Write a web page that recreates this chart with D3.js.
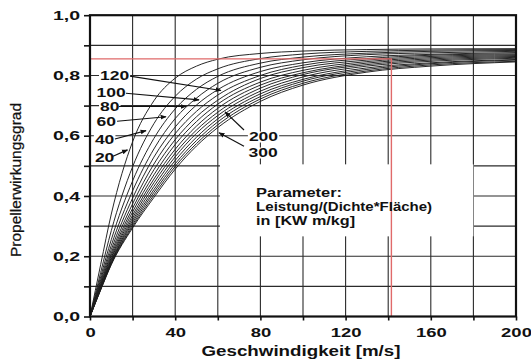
<!DOCTYPE html>
<html>
<head>
<meta charset="utf-8">
<script src="https://cdn.jsdelivr.net/npm/d3@7"></script>
<style>
  body { margin: 0; background: #fff; }
  svg { display: block; font-family: "Liberation Sans", Arial, sans-serif; }
</style>
</head>
<body>
<div id="chart"></div>
<script>
var speeds = [0, 5, 10, 20, 30, 40, 50, 60, 80, 100, 130, 160, 200];

// parameter Leistung/(Dichte*Flaeche) in kW m/kg, one curve each
var params = [20, 40, 60, 80, 100, 120, 140, 160, 180, 200, 220, 240, 260, 280, 300];

// Propellerwirkungsgrad per curve, at the speeds above
var eta020 = [0, .172, .340, .580, .716, .791, .831, .854, .873, .881, .886, .888, .889];
var eta040 = [0, .146, .285, .497, .640, .731, .788, .822, .856, .871, .880, .884, .886];
var eta060 = [0, .132, .255, .450, .591, .689, .754, .797, .841, .861, .874, .880, .883];
var eta080 = [0, .122, .236, .417, .556, .657, .725, .774, .827, .852, .869, .875, .880];
var eta100 = [0, .115, .222, .393, .529, .629, .702, .753, .813, .842, .862, .870, .876];
var eta120 = [0, .109, .211, .374, .506, .607, .681, .735, .800, .834, .856, .867, .872];
var eta140 = [0, .105, .203, .359, .487, .587, .663, .718, .790, .826, .851, .863, .869];
var eta160 = [0, .101, .196, .347, .470, .571, .647, .705, .778, .817, .846, .859, .866];
var eta180 = [0, .098, .191, .336, .456, .555, .632, .691, .768, .809, .841, .855, .863];
var eta200 = [0, .096, .186, .327, .444, .542, .619, .678, .758, .803, .836, .851, .860];
var eta220 = [0, .094, .182, .319, .432, .530, .608, .667, .748, .795, .831, .847, .857];
var eta240 = [0, .092, .179, .312, .421, .518, .595, .656, .739, .787, .825, .842, .853];
var eta260 = [0, .090, .176, .305, .412, .507, .584, .646, .730, .781, .820, .839, .851];
var eta280 = [0, .089, .174, .299, .403, .498, .574, .636, .722, .774, .815, .835, .847];
var eta300 = [0, .088, .172, .294, .395, .489, .566, .627, .714, .768, .811, .831, .845];
var etaSeries = [eta020, eta040, eta060, eta080, eta100, eta120, eta140, eta160,
                 eta180, eta200, eta220, eta240, eta260, eta280, eta300];

// axes
var xTicks = d3.range(0, 201, 20);
var xLabels = [0, 40, 80, 120, 160, 200];
var yTicks = d3.range(0, 10.01, 1).map(function(d) { return d / 10; });
var yLabels = [0, 0.2, 0.4, 0.6, 0.8, 1.0];

// red reading lines
var markSpeed = 141.5, markEta = 0.855;

// curve labels: text, arrow start and arrow tip, all in (speed, eta)
var curveLabels = ["120", "100", "80", "60", "40", "20", "200", "300"];
var labelPos = [[4.7, .786], [3.1, .728], [4.7, .683], [3.1, .633], [2.3, .574], [2.3, .514], [74.6, .584], [74.4, .531]];
var arrowFrom = [[18.8, .798], [16.9, .741], [13.6, .697], [12.7, .648], [11.7, .589], [10.8, .532], [72.3, .619], [72.3, .565]];
var arrowTip = [[61.5, .750], [51.2, .719], [45.1, .697], [35.7, .663], [26.3, .617], [17.6, .553], [63.4, .679], [60.6, .610]];

var noteLines = ["Parameter:", "Leistung/(Dichte*Fläche)", "in [KW m/kg]"];
var noteWidths = [86, 176, 99];

var width = 531, height = 362;
var mLeft = 90, mRight = 516, mTop = 15.2, mBottom = 316.5;

var x = d3.scaleLinear().domain([0, 200]).range([mLeft, mRight]);
var y = d3.scaleLinear().domain([0, 1]).range([mBottom, mTop]);

var svg = d3.select("#chart").append("svg")
  .attr("width", width)
  .attr("height", height);

svg.append("defs").append("marker")
  .attr("id", "arrow")
  .attr("viewBox", "0 0 10 10")
  .attr("refX", 9).attr("refY", 5)
  .attr("markerWidth", 6).attr("markerHeight", 6)
  .attr("markerUnits", "userSpaceOnUse")
  .attr("orient", "auto")
  .append("path")
  .attr("d", "M0,1L10,5L0,9Z")
  .attr("fill", "#111");

// stretch text sideways, the scan has wide lettering
function stretch(sel, k) {
  sel.each(function() {
    var w = this.getComputedTextLength();
    d3.select(this).attr("textLength", w * k).attr("lengthAdjust", "spacingAndGlyphs");
  });
}

//Gridlines
var grid = svg.append("g").attr("stroke", "#2b2b2b").attr("stroke-width", 1.1);
grid.selectAll("line.v")
  .data(xTicks.slice(1, -1))
  .enter().append("line")
  .attr("x1", function(d) { return x(d); }).attr("x2", function(d) { return x(d); })
  .attr("y1", y(0)).attr("y2", y(1));
grid.selectAll("line.h")
  .data(yTicks.slice(1, -1))
  .enter().append("line")
  .attr("y1", function(d) { return y(d); }).attr("y2", function(d) { return y(d); })
  .attr("x1", x(0)).attr("x2", x(200));

//White field behind the parameter note
svg.append("rect")
  .attr("x", x(61)).attr("y", y(0.505))
  .attr("width", x(180) - x(61)).attr("height", y(0.266) - y(0.505))
  .attr("fill", "#fff");

//Curves
var line = d3.line()
  .x(function(d, i) { return x(speeds[i]); })
  .y(function(d) { return y(d); })
  .curve(d3.curveMonotoneX);

svg.append("g").selectAll("path")
  .data(etaSeries)
  .enter().append("path")
  .attr("d", line)
  .attr("fill", "none")
  .attr("stroke", "#1c1c1c")
  .attr("stroke-width", 0.95);

//Red reading lines
svg.append("path")
  .attr("d", "M" + x(0) + "," + y(markEta) + "H" + x(markSpeed) + "V" + y(0))
  .attr("fill", "none")
  .attr("stroke", "#e06a6a")
  .attr("stroke-width", 1.4);

//Axes
var fmt = d3.format(".1f");
var yAxis = svg.append("g")
  .attr("transform", "translate(" + mLeft + ",0)")
  .call(d3.axisLeft(y).tickValues(yTicks).tickSize(6).tickPadding(4)
    .tickFormat(function(d) {
      return yLabels.some(function(l) { return Math.abs(l - d) < 1e-6; }) ? fmt(d).replace(".", ",") : "";
    }));
var xAxis = svg.append("g")
  .attr("transform", "translate(0," + mBottom + ")")
  .call(d3.axisBottom(x).tickValues(xTicks).tickSize(4).tickPadding(4)
    .tickFormat(function(d) { return xLabels.indexOf(d) >= 0 ? d : ""; }));

[yAxis, xAxis].forEach(function(a) {
  a.select(".domain").remove();
  a.selectAll(".tick line").attr("stroke", "#111").attr("stroke-width", 1.6);
  a.selectAll("text")
    .attr("fill", "#111")
    .attr("font-family", "Liberation Sans, Arial, sans-serif")
    .attr("font-size", 13)
    .attr("font-weight", "bold");
});
xAxis.selectAll("text").attr("dy", "0.95em");
stretch(yAxis.selectAll("text"), 1.5);
stretch(xAxis.selectAll("text"), 1.42);

//Frame
svg.append("rect")
  .attr("x", x(0)).attr("y", y(1))
  .attr("width", x(200) - x(0)).attr("height", y(0) - y(1))
  .attr("fill", "none")
  .attr("stroke", "#111")
  .attr("stroke-width", 2.2);

//Arrows and curve labels
var ann = svg.append("g");
var labs = ann.selectAll("text")
  .data(curveLabels)
  .enter().append("text")
  .attr("x", function(d, i) { return x(labelPos[i][0]); })
  .attr("y", function(d, i) { return y(labelPos[i][1]); })
  .attr("font-size", 12.5)
  .attr("font-weight", "bold")
  .attr("fill", "#111")
  .text(function(d) { return d; });
labs.each(function() {
  var b = this.getBBox();
  ann.insert("rect", "text")
    .attr("x", b.x - 1).attr("y", b.y + 2)
    .attr("width", b.width * 1.4 + 2).attr("height", b.height - 3)
    .attr("fill", "#fff");
});
stretch(labs, 1.4);

ann.selectAll("line")
  .data(curveLabels)
  .enter().append("line")
  .attr("x1", function(d, i) { return x(arrowFrom[i][0]); })
  .attr("y1", function(d, i) { return y(arrowFrom[i][1]); })
  .attr("x2", function(d, i) { return x(arrowTip[i][0]); })
  .attr("y2", function(d, i) { return y(arrowTip[i][1]); })
  .attr("stroke", "#111")
  .attr("stroke-width", 1.2)
  .attr("marker-end", "url(#arrow)");

//Parameter note
svg.append("g").selectAll("text")
  .data(noteLines)
  .enter().append("text")
  .attr("x", x(78))
  .attr("y", function(d, i) { return y(0.397) + i * 14; })
  .attr("font-size", 12.5)
  .attr("font-weight", "bold")
  .attr("fill", "#111")
  .attr("textLength", function(d, i) { return noteWidths[i]; })
  .attr("lengthAdjust", "spacingAndGlyphs")
  .text(function(d) { return d; });

//Axis titles
svg.append("text")
  .attr("x", (x(0) + x(200)) / 2 - 2)
  .attr("y", 356)
  .attr("text-anchor", "middle")
  .attr("font-size", 15)
  .attr("font-weight", "bold")
  .attr("fill", "#111")
  .text("Geschwindigkeit [m/s]")
  .call(stretch, 1.25);

svg.append("text")
  .attr("transform", "translate(21," + 180 + ") rotate(-90)")
  .attr("text-anchor", "middle")
  .attr("font-size", 15.5)
  .attr("fill", "#111")
  .attr("stroke", "#111")
  .attr("stroke-width", 0.25)
  .text("Propellerwirkungsgrad");
</script>
</body>
</html>
